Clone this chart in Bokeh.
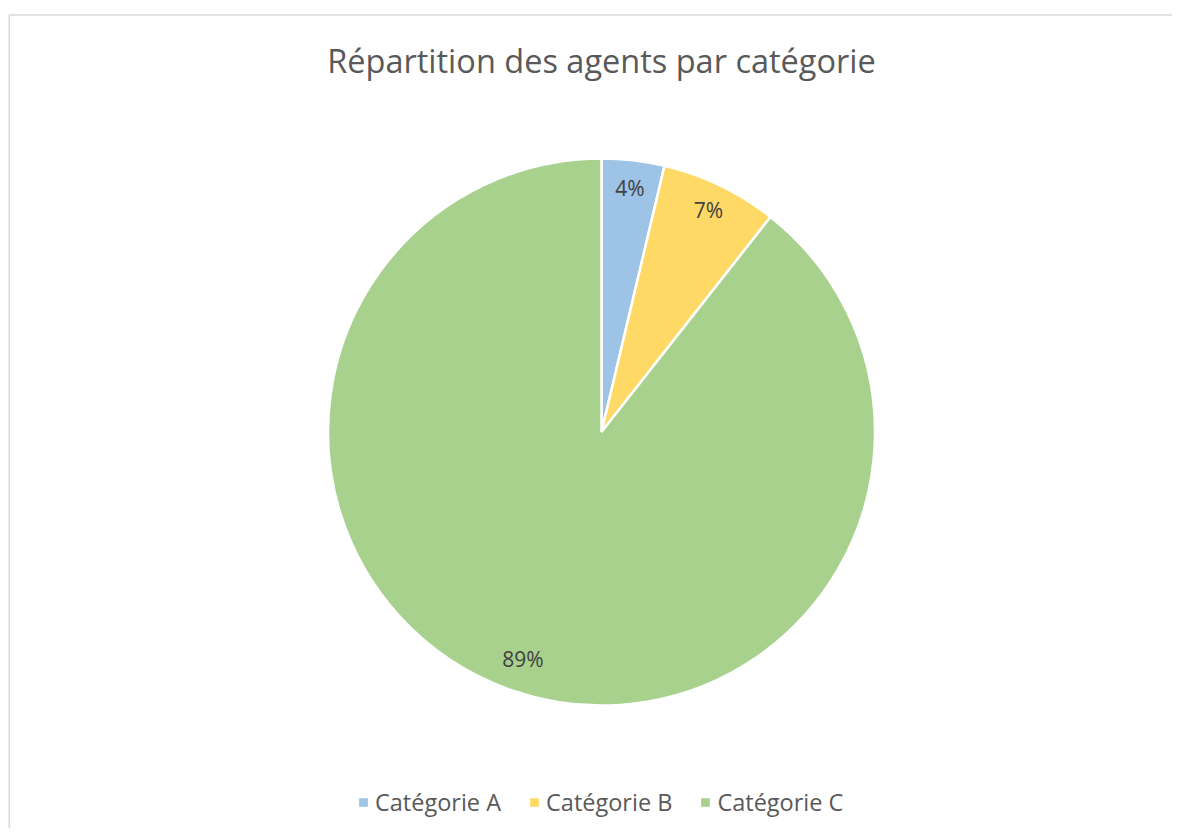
import numpy as np
from bokeh.plotting import figure
from bokeh.models import Range1d, Label, Legend, LegendItem, ColumnDataSource
from bokeh.core.properties import value
from bokeh.embed import file_html
from bokeh.resources import INLINE

categories = ["Catégorie A", "Catégorie B", "Catégorie C"]
shares = [3.7, 6.9, 89.4]
colors = ["#9DC3E6", "#FFD966", "#A9D18E"]
title_text = "Répartition des agents par catégorie"

W, H = 1172, 828
FONT = "Open Sans"

p = figure(width=W, height=H, output_backend="svg", toolbar_location=None,
           x_range=Range1d(0, W), y_range=Range1d(0, H), min_border=0,
           x_axis_type=None, y_axis_type=None)
p.grid.visible = False
p.outline_line_color = None
p.background_fill_color = "white"
p.border_fill_color = "white"

# chart area border
p.line([8.75, 8.75, W], [0, H - 14.5, H - 14.5], line_color="#D9D9D9", line_width=1.5)

vals = np.array(shares, dtype=float)
frac = vals / vals.sum()
cum_end = np.cumsum(frac)
cum_start = cum_end - frac
start = np.pi / 2 - cum_end * 2 * np.pi
end = np.pi / 2 - cum_start * 2 * np.pi

cx, cy, R = 601, 396.5, 273.5
src = ColumnDataSource(dict(start=start, end=end, color=colors, cat=categories))
r = p.wedge(x=cx, y=cy, radius=R, start_angle="start", end_angle="end",
            fill_color="color", line_color="white", line_width=2.5, source=src)

mid = np.pi / 2 - (cum_start + frac / 2) * 2 * np.pi
lr = [0.9 * R, 0.9 * R, 0.88 * R]
lx = cx + np.array(lr) * np.cos(mid)
ly = cy + np.array(lr) * np.sin(mid)
labels = [f"{round(v)}%" for v in frac * 100]
p.text(x=lx, y=ly, text=labels, text_align="center", text_baseline="middle",
       text_font=value(FONT), text_font_size="21px", text_color="#404040")

p.add_layout(Label(x=601, y=H - 60, x_units="screen", y_units="screen", text=title_text,
                   text_align="center", text_baseline="middle", text_font=FONT,
                   text_font_size="32.5px", text_color="#595959"))

legend = Legend(items=[LegendItem(label=c, renderers=[r], index=i) for i, c in enumerate(categories)],
                orientation="horizontal", location=(356, 10), glyph_width=14, glyph_height=14,
                label_standoff=5, spacing=26, padding=0, margin=0, border_line_color=None,
                background_fill_alpha=0, label_text_font=FONT, label_text_font_size="23.5px",
                label_text_color="#595959")
p.add_layout(legend, "center")

open("out.html", "w").write(file_html(p, INLINE))
